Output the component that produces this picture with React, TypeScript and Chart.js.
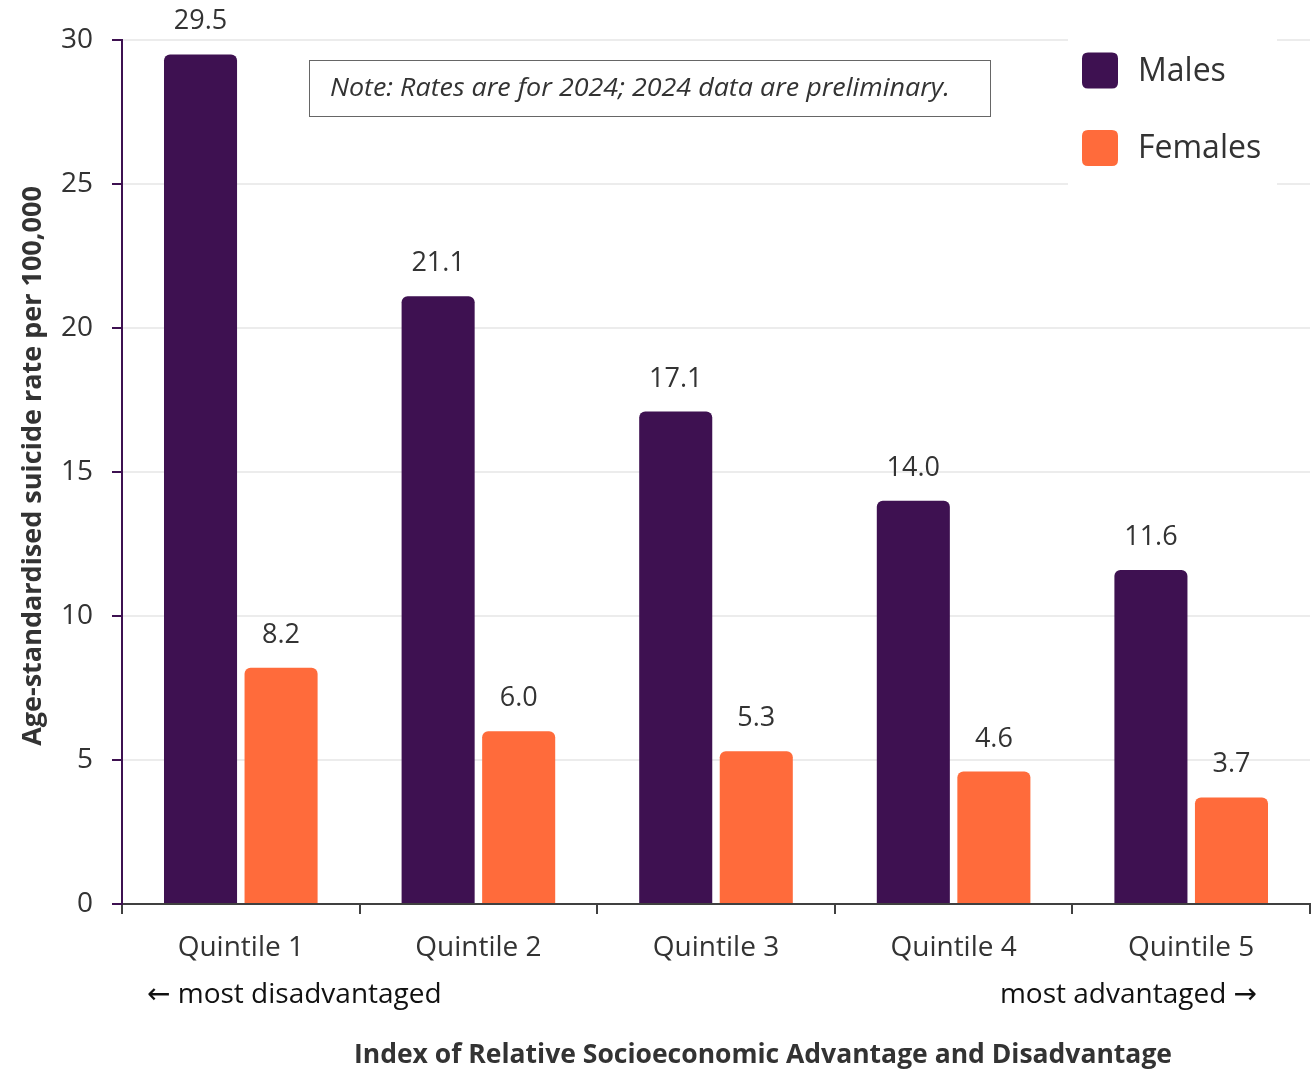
import React, { useEffect, useRef } from "react";
import { Chart, registerables } from "chart.js";

Chart.register(...registerables);

const categories = ["Quintile 1", "Quintile 2", "Quintile 3", "Quintile 4", "Quintile 5"];
const males = [29.5, 21.1, 17.1, 14.0, 11.6];
const females = [8.2, 6.0, 5.3, 4.6, 3.7];
const seriesNames = ["Males", "Females"];
const yTitle = "Age-standardised suicide rate per 100,000";
const xTitle = "Index of Relative Socioeconomic Advantage and Disadvantage";
const noteText = "Note: Rates are for 2024; 2024 data are preliminary.";
const leftNote = "\u2190 most disadvantaged";
const rightNote = "most advantaged \u2192";

const MALE_COLOR = "#3E1151";
const FEMALE_COLOR = "#FF6B3B";
const TEXT = "#333333";
const FONT = "'Open Sans', 'DejaVu Sans', sans-serif";

function roundRect(ctx: CanvasRenderingContext2D, x: number, y: number, w: number, h: number, r: number) {
  ctx.beginPath();
  ctx.moveTo(x + r, y);
  ctx.lineTo(x + w - r, y);
  ctx.quadraticCurveTo(x + w, y, x + w, y + r);
  ctx.lineTo(x + w, y + h - r);
  ctx.quadraticCurveTo(x + w, y + h, x + w - r, y + h);
  ctx.lineTo(x + r, y + h);
  ctx.quadraticCurveTo(x, y + h, x, y + h - r);
  ctx.lineTo(x, y + r);
  ctx.quadraticCurveTo(x, y, x + r, y);
  ctx.closePath();
}

const extrasPlugin = {
  id: "extras",
  afterDatasetsDraw(chart: any) {
    const ctx: CanvasRenderingContext2D = chart.ctx;
    ctx.save();
    // data labels
    ctx.font = `27px ${FONT}`;
    ctx.fillStyle = TEXT;
    ctx.textAlign = "center";
    ctx.textBaseline = "alphabetic";
    chart.data.datasets.forEach((ds: any, di: number) => {
      const meta = chart.getDatasetMeta(di);
      meta.data.forEach((el: any, i: number) => {
        ctx.fillText(Number(ds.data[i]).toFixed(1), el.x, el.y - 25);
      });
    });

    // legend
    ctx.fillStyle = "#ffffff";
    ctx.fillRect(1068, 30, 209, 162);
    const colors = [MALE_COLOR, FEMALE_COLOR];
    const ys = [70.5, 148];
    seriesNames.forEach((name, i) => {
      ctx.fillStyle = colors[i];
      roundRect(ctx, 1082, ys[i] - 18, 36, 36, 6);
      ctx.fill();
      ctx.fillStyle = TEXT;
      ctx.font = `32px ${FONT}`;
      ctx.textAlign = "left";
      ctx.textBaseline = "middle";
      ctx.fillText(name, 1138, ys[i] + 1);
    });

    // note box
    ctx.fillStyle = "#ffffff";
    ctx.fillRect(309, 60, 681, 56);
    ctx.strokeStyle = "#666666";
    ctx.lineWidth = 1;
    ctx.strokeRect(309.5, 60.5, 681, 56);
    ctx.font = `italic 26px ${FONT}`;
    ctx.fillStyle = TEXT;
    ctx.textAlign = "left";
    ctx.textBaseline = "middle";
    const w = ctx.measureText(noteText).width;
    const target = 620;
    ctx.save();
    ctx.translate(330, 89);
    ctx.scale(target / w, 1);
    ctx.fillText(noteText, 0, 0);
    ctx.restore();

    // y title
    ctx.save();
    ctx.translate(33, 466);
    ctx.rotate(-Math.PI / 2);
    ctx.font = `bold 27px ${FONT}`;
    ctx.fillStyle = TEXT;
    ctx.textAlign = "center";
    ctx.textBaseline = "middle";
    ctx.fillText(yTitle, 0, 0);
    ctx.restore();

    // bottom notes
    ctx.font = `28px ${FONT}`;
    ctx.fillStyle = "#111111";
    ctx.textBaseline = "middle";
    ctx.textAlign = "left";
    ctx.fillText(leftNote, 147, 995);
    ctx.textAlign = "right";
    ctx.fillText(rightNote, 1257, 995);

    // x title
    ctx.font = `bold 26.5px ${FONT}`;
    ctx.fillStyle = TEXT;
    ctx.textAlign = "center";
    ctx.fillText(xTitle, 763, 1055);
    ctx.restore();
  },
};

export default function App() {
  const ref = useRef<HTMLCanvasElement | null>(null);
  useEffect(() => {
    if (!ref.current) return;
    const chart = new Chart(ref.current, {
      type: "bar",
      data: {
        labels: categories,
        datasets: [
          {
            label: seriesNames[0],
            data: males,
            backgroundColor: MALE_COLOR,
            borderRadius: { topLeft: 6, topRight: 6, bottomLeft: 0, bottomRight: 0 },
            borderSkipped: false,
            categoryPercentage: 0.678,
            barPercentage: 0.907,
          },
          {
            label: seriesNames[1],
            data: females,
            backgroundColor: FEMALE_COLOR,
            borderRadius: { topLeft: 6, topRight: 6, bottomLeft: 0, bottomRight: 0 },
            borderSkipped: false,
            categoryPercentage: 0.678,
            barPercentage: 0.907,
          },
        ],
      },
      options: {
        animation: false,
        responsive: true,
        maintainAspectRatio: false,
        layout: { padding: { left: 0, top: 40, right: 4, bottom: 0 } },
        plugins: {
          legend: { display: false },
          tooltip: { enabled: false },
          title: { display: false },
        },
        scales: {
          x: {
            offset: true,
            grid: {
              display: true,
              drawOnChartArea: false,
              drawTicks: true,
              tickLength: 10,
              tickColor: "#404040",
              lineWidth: 2,
              offset: true,
            },
            border: { display: true, color: "#404040", width: 2 },
            ticks: { font: { family: FONT, size: 28 }, color: TEXT, padding: 17 },
            afterFit: (s: any) => {
              s.height = 167;
            },
          },
          y: {
            min: 0,
            max: 30,
            ticks: { stepSize: 5, font: { family: FONT, size: 28 }, color: TEXT, padding: 19 },
            grid: {
              color: "#ececec",
              lineWidth: 2,
              tickColor: MALE_COLOR,
              tickLength: 10,
              drawTicks: true,
            },
            border: { display: true, color: MALE_COLOR, width: 2 },
            title: { display: false },
            afterFit: (s: any) => {
              s.width = 122;
            },
          },
        },
      },
      plugins: [extrasPlugin],
    } as any);
    return () => chart.destroy();
  }, []);
  return (
    <div style={{ position: "fixed", left: 0, top: 0, width: 1314, height: 1071, background: "#ffffff" }}>
      <canvas ref={ref} />
    </div>
  );
}
